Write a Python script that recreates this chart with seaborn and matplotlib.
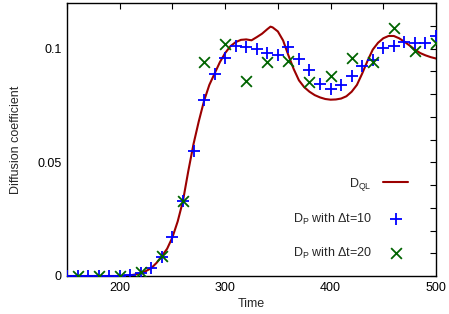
import numpy as np
import pandas as pd
import matplotlib
matplotlib.use('Agg')
import matplotlib.pyplot as plt
import seaborn as sns

# D_QL curve
t_ql = [150, 160, 170, 180, 190, 200, 205, 210, 215, 220, 225, 230, 235, 240, 245,
        250, 255, 260, 265, 270, 275, 280, 285, 290, 295, 300, 305, 310, 315, 320,
        325, 330, 335, 340, 343, 345, 350, 355, 360, 365, 370, 375, 380, 385, 390,
        395, 400, 405, 410, 415, 420, 425, 430, 435, 440, 445, 450, 455, 460, 465,
        470, 475, 480, 485, 490, 495, 500]
d_ql = [0, 0, 0, 0, 0, 0, 0.0001, 0.0003, 0.0007, 0.0013, 0.0022, 0.0035, 0.0058, 0.0088, 0.012,
        0.017, 0.024, 0.033, 0.046, 0.058, 0.068, 0.077, 0.084, 0.089, 0.094, 0.098, 0.101, 0.1028, 0.1038, 0.104,
        0.1036, 0.105, 0.1065, 0.1085, 0.1096, 0.1093, 0.1075, 0.1035, 0.097, 0.091, 0.086, 0.083, 0.081, 0.0795, 0.0785,
        0.0778, 0.0775, 0.0776, 0.078, 0.079, 0.081, 0.084, 0.089, 0.0945, 0.0995, 0.1025, 0.1045, 0.1055, 0.1055, 0.1045,
        0.103, 0.1013, 0.0995, 0.098, 0.097, 0.0962, 0.0956]

# D_P with dt=10
t_10 = [150, 160, 170, 180, 190, 200, 210, 220, 230, 240, 250, 260, 270, 280, 290, 300,
        310, 320, 330, 340, 350, 360, 370, 380, 390, 400, 410, 420, 430, 440, 450,
        460, 470, 480, 490, 500]
d_10 = [0, 0, 0, 0, 0, 0, 0.0005, 0.0015, 0.0035, 0.0085, 0.0171, 0.033, 0.055, 0.0772, 0.089, 0.096,
        0.101, 0.1005, 0.0996, 0.098, 0.097, 0.1005, 0.0956, 0.0904, 0.0846, 0.082, 0.0838, 0.0877, 0.0925, 0.095, 0.1004,
        0.101, 0.103, 0.1026, 0.1026, 0.1057]

# D_P with dt=20
t_20 = [160, 180, 200, 220, 240, 260, 280, 300, 320, 340, 360, 380, 400, 420, 440, 460, 480, 500]
d_20 = [0, 0, 0, 0.0018, 0.0088, 0.033, 0.094, 0.102, 0.0855, 0.094, 0.0947, 0.0851, 0.0877, 0.096,
        0.0939, 0.109, 0.099, 0.1026]

ql = pd.DataFrame({'t': t_ql, 'D': d_ql})
p10 = pd.DataFrame({'t': t_10, 'D': d_10})
p20 = pd.DataFrame({'t': t_20, 'D': d_20})

sns.set_style('white')
plt.rcParams['font.family'] = ['Liberation Sans', 'DejaVu Sans']
plt.rcParams['mathtext.fontset'] = 'custom'
plt.rcParams['mathtext.rm'] = 'Liberation Sans'

fig = plt.figure(figsize=(4.49, 3.14), dpi=100)
ax = fig.add_axes([67 / 449, 1 - 276 / 314, (436 - 67) / 449, (276 - 3) / 314])

sns.lineplot(data=ql, x='t', y='D', color='#9b0000', linewidth=1.5,
             label=r'D$_\mathregular{QL}$', ax=ax)
sns.scatterplot(data=p10, x='t', y='D', color='#0000ff', marker='+', s=80,
                linewidth=1.3, label=r'D$_\mathregular{P}$ with Δt=10', ax=ax, zorder=3)
sns.scatterplot(data=p20, x='t', y='D', color='#006400', marker='x', s=60,
                linewidth=1.3, label=r'D$_\mathregular{P}$ with Δt=20', ax=ax, zorder=4)

ax.set_xlim(150, 500)
ax.set_ylim(0, 0.12)
ax.set_xticks(np.arange(150, 501, 50))
ax.set_xticklabels(['' if v % 100 else str(v) for v in range(150, 501, 50)])
ax.set_yticks(np.arange(0, 0.1201, 0.01))
ylab = {0: '0', 5: '0.05', 10: '0.1'}
ax.set_yticklabels([ylab.get(i, '') for i in range(13)])
ax.tick_params(direction='in', length=4, width=0.8, top=True, right=True,
               labelsize=9, colors='black', pad=4)
for s in ax.spines.values():
    s.set_color('black')
    s.set_linewidth(1.0)

ax.set_xlabel('Time', fontsize=9, labelpad=3)
ax.set_ylabel('Diffusion coefficient', fontsize=9, labelpad=11)

ax.legend(loc='lower right', bbox_to_anchor=(0.955, 0.015), frameon=False,
          markerfirst=False, fontsize=9, labelspacing=1.5, handlelength=2.0,
          handletextpad=0.9)

fig.savefig('out.png', dpi=100)
